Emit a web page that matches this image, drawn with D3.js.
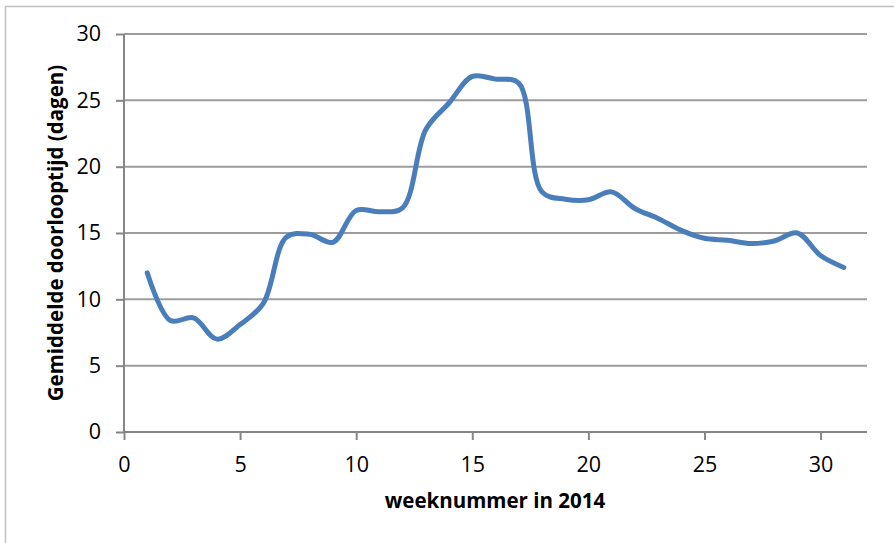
<!DOCTYPE html>
<html><head><meta charset="utf-8">
<script src="https://cdn.jsdelivr.net/npm/d3@7"></script>
<style>body{margin:0;background:#fff}svg{display:block}</style>
</head><body>
<script>
const weeks = [1,2,3,4,5,6,7,8,9,10,11,12,13,14,15,16,17,18,19,20,21,22,23,24,25,26,27,28,29,30,31];
const doorlooptijd = [12.0,8.4,8.6,7.0,8.1,9.7,14.7,14.9,14.3,16.7,16.6,16.9,22.8,24.8,26.8,26.6,26.3,18.1,17.55,17.5,18.1,16.85,16.1,15.2,14.6,14.45,14.2,14.4,15.0,13.3,12.4];
const xTicks = [0,5,10,15,20,25,30];
const yTicks = [0,5,10,15,20,25,30];
const xTitle = "weeknummer in 2014";
const yTitle = "Gemiddelde doorlooptijd (dagen)";

const W = 894, H = 543;
const svg = d3.select("body").append("svg").attr("width", W).attr("height", H);
// outer frame
svg.append("path").attr("d", "M5.5," + H + "V6.5H" + W).attr("fill","none").attr("stroke","#c0c0c0").attr("stroke-width",1.5);

const x = d3.scaleLinear().domain([0,32]).range([124,867]);
const y = d3.scaleLinear().domain([0,30]).range([432,34]);
const font = "'Open Sans', sans-serif";

// gridlines
svg.append("g").selectAll("line").data(yTicks.filter(d=>d>0)).join("line")
  .attr("x1", x(0)).attr("x2", x(32)).attr("y1", d=>y(d)).attr("y2", d=>y(d))
  .attr("stroke", "#9c9c9c").attr("stroke-width", 2);

// y axis
const yAxis = svg.append("g").attr("transform", `translate(${x(0)},0)`)
  .call(d3.axisLeft(y).tickValues(yTicks).tickSize(8).tickPadding(15).tickSizeOuter(0));
// x axis
const xAxis = svg.append("g").attr("transform", `translate(0,${y(0)})`)
  .call(d3.axisBottom(x).tickValues(xTicks).tickSize(8).tickPadding(17).tickSizeOuter(0));
[yAxis, xAxis].forEach(g => {
  g.select(".domain").attr("stroke", "#868686").attr("stroke-width", 2);
  g.selectAll(".tick line").attr("stroke", "#868686").attr("stroke-width", 2);
  g.selectAll(".tick text").attr("fill", "#000").attr("font-family", font).attr("font-size", 21.5);
});
xAxis.select(".domain").attr("d", `M${x(0)},0H${x(32)}`);
yAxis.select(".domain").attr("d", `M0,${y(0)}V${y(30)}`);

// line
const line = d3.line().x((d,i)=>x(weeks[i])).y(d=>y(d)).curve(d3.curveCatmullRom.alpha(0.5));
svg.append("path").datum(doorlooptijd).attr("d", line)
  .attr("fill","none").attr("stroke","#4a7ebb").attr("stroke-width",5).attr("stroke-linecap","round").attr("stroke-linejoin","round");

// titles
svg.append("text").attr("x", 495).attr("y", 508).attr("text-anchor","middle")
  .attr("font-family", font).attr("font-weight","bold").attr("font-size",20.5).text(xTitle);
svg.append("text").attr("transform","translate(63,233) rotate(-90)").attr("text-anchor","middle")
  .attr("font-family", font).attr("font-weight","bold").attr("font-size",20.5).text(yTitle);
</script>
</body></html>
